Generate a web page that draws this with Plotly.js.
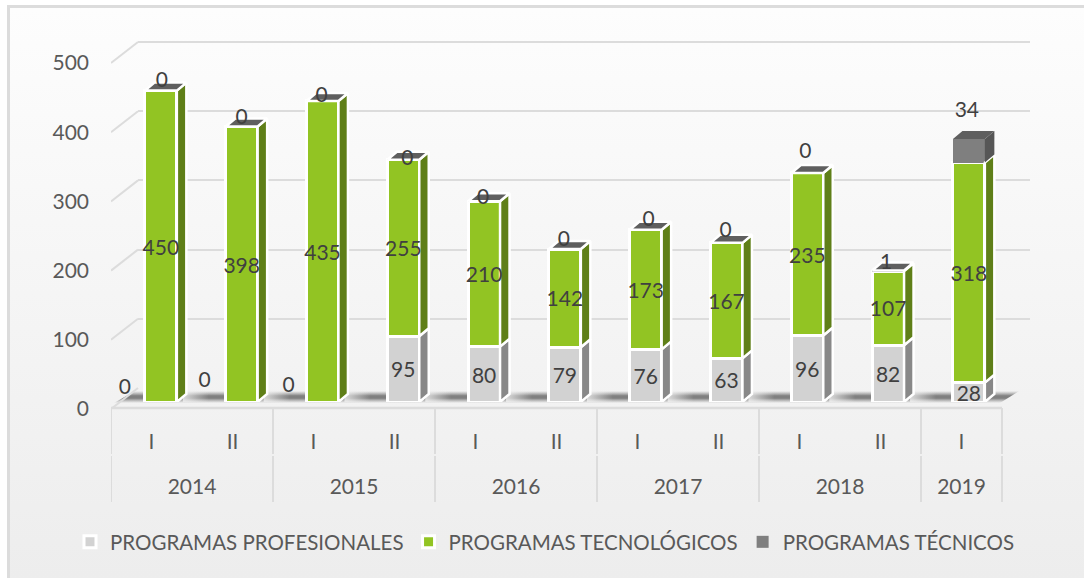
<!DOCTYPE html>
<html><head><meta charset="utf-8">
<script src="https://cdn.plot.ly/plotly-3.0.1.min.js"></script>
<style>
html,body{margin:0;padding:0;width:1084px;height:578px;overflow:hidden;background:#fff}
#frame{position:absolute;left:7px;top:5px;right:0;bottom:0;border-left:3px solid #dcdcdc;border-top:3px solid #dcdcdc;background:linear-gradient(#fdfdfd,#ededed)}
#chart{position:absolute;left:0;top:0;width:1084px;height:578px}
</style></head><body><div id="frame"></div><div id="chart"></div>
<script>
const periods=['I','II','I','II','I','II','I','II','I','II','I'];
const years=['2014','2015','2016','2017','2018','2019'];
const yearSizes=[2,2,2,2,2,1];
const profesionales=[0,0,0,95,80,79,76,63,96,82,28];
const tecnologicos=[450,398,435,255,210,142,173,167,235,107,318];
const tecnicos=[0,0,0,0,0,0,0,0,0,1,34];
const valueTicks=[0,100,200,300,400,500];
const names=['PROGRAMAS PROFESIONALES','PROGRAMAS TECNOLÓGICOS','PROGRAMAS TÉCNICOS'];

// label nudges, in pixels
const zeroLabelNudge=[[-36,13],[-37,20],[-34,15]];
const topLabelNudgeX=[1,0,-1,4,-1,-1,3,-1,-2,-2,-2];
const topLabelNudgeY=[9,8,4,0,3,8,9,11,20,7,27];
const labelDrop=3;

const W=1084,H=578,PX=0.692,STEP=81,BARSTEP=80.8;
const FONT='Lato, sans-serif';
const xs=periods.map((_,i)=>i);
const barOff=-0.08,barW=0.395,dx=9.5/BARSTEP,dy=8/PX;
const xDom=[111/W,1];
const xRange=[-0.5,-0.5+973/STEP],xRange3=[-0.5,-0.5+973/BARSTEP];
const pu=p=>p/PX, xu=p=>p/STEP, xb=p=>p/BARSTEP;

const base1=profesionales, top1=profesionales.map((v,i)=>v+tecnologicos[i]), top2=top1.map((v,i)=>v+tecnicos[i]);

function sides(lo,hi,only){const X=[],Y=[];xs.forEach(i=>{if(hi[i]<=lo[i]||(only&&!only(i)))return;const r=i+barOff+barW;
  X.push(r,r+dx,r+dx,r,r,null);Y.push(lo[i],lo[i]+dy,hi[i]+dy,hi[i],lo[i],null);});return{X,Y};}
function tops(h,only){const X=[],Y=[];xs.forEach(i=>{if(!only(i))return;const l=i+barOff,r=l+barW;
  X.push(l,r,r+dx,l+dx,l,null);Y.push(h[i],h[i],h[i]+dy,h[i]+dy,h[i],null);});return{X,Y};}
function face(g,fill,lw){return{type:'scatter',mode:lw?'lines':'none',x:g.X,y:g.Y,xaxis:'x3',yaxis:'y3',fill:'toself',fillcolor:fill,
  line:{color:'#fff',width:lw||0},showlegend:false,hoverinfo:'skip'};}
function bar(name,y,color,lw){return{type:'bar',name,x:xs,y,xaxis:'x3',yaxis:'y3',offset:barOff,width:barW,
  marker:{color,line:{color:'#fff',width:lw}},hoverinfo:'skip'};}
function labels(x,y,text){return{type:'scatter',mode:'text',x,y,text,xaxis:'x3',yaxis:'y3',textposition:'middle center',
  textfont:{family:FONT,size:21,color:'#404040'},showlegend:false,hoverinfo:'skip',cliponaxis:false};}

const cx=i=>i+barOff+barW/2;
const traces=[];
// back wall
traces.push({type:'scatter',mode:'none',x:[0,1],y:[0,0],xaxis:'x',yaxis:'y',showlegend:false,hoverinfo:'skip'});
// floor shadow
traces.push({type:'scatter',mode:'none',xaxis:'x2',yaxis:'y2',showlegend:false,hoverinfo:'skip',fill:'toself',
  x:[-0.5+xu(3),10.5+xu(-2),10.5+xu(17),-0.5+xu(24),-0.5+xu(3)],
  y:[pu(6),pu(6),pu(18),pu(18),pu(6)],
  fillgradient:{type:'vertical',colorscale:[[0,'rgba(110,110,110,0)'],[0.4,'rgba(90,90,90,0.75)'],[0.6,'rgba(90,90,90,0.75)'],[1,'rgba(110,110,110,0)']]}});
// lighter patches right of each bar
xs.slice(0,-1).forEach(i=>{const l=i+barOff+barW+xb(6),r=l+xb(26);
  traces.push({type:'scatter',mode:'none',xaxis:'x3',yaxis:'y3',showlegend:false,hoverinfo:'skip',fill:'toself',
    x:[l,r,r,l,l],y:[pu(-2),pu(-2),pu(12),pu(12),pu(-2)],
    fillgradient:{type:'horizontal',colorscale:[[0,'rgba(241,241,241,0.8)'],[1,'rgba(241,241,241,0)']]}});
});
// side walls
const dgx=[],dgy=[];valueTicks.forEach(v=>{dgx.push(-0.5,-0.5+xu(27),null);dgy.push(v,v+pu(21),null);});
traces.push({type:'scatter',mode:'lines',x:dgx,y:dgy,xaxis:'x2',yaxis:'y2',line:{color:'#dcdcdc',width:2},showlegend:false,hoverinfo:'skip'});
// bars
traces.push(bar(names[0],profesionales,'#d2d2d2',3));
traces.push(bar(names[1],tecnologicos,'#92c423',3));
traces.push(bar(names[2],tecnicos,'#7f7f7f',0));
// 3-D faces
traces.push(face(sides(profesionales.map(()=>0),base1),'#888888',2.5));
traces.push(face(sides(base1,top1),'#5f7f18',2.5));
traces.push(face(sides(top1,top2,i=>tecnicos[i]>1),'#565656',0));
traces.push(face(tops(top2,i=>tecnicos[i]<=1),'#5f5f5f',2.5));
traces.push(face(tops(top2,i=>tecnicos[i]>1),'#5f5f5f',0));
// labels
traces.push(labels(xs.map(i=>cx(i)+(profesionales[i]?0:xb((zeroLabelNudge[i]||[0,0])[0]))),
  profesionales.map((v,i)=>v?v/2-pu(labelDrop):pu((zeroLabelNudge[i]||[0,0])[1])),profesionales.map(String)));
traces.push(labels(xs.map(i=>cx(i)),tecnologicos.map((v,i)=>base1[i]+v/2-pu(labelDrop)),tecnologicos.map(String)));
traces.push(labels(xs.map(i=>cx(i)+xb(topLabelNudgeX[i])),top2.map((v,i)=>v+pu(topLabelNudgeY[i])),tecnicos.map(String)));

// year groups
let pos=-0.5;const bounds=[pos],centers=[];
yearSizes.forEach(n=>{centers.push((pos+n/2+0.5)*STEP/BARSTEP-0.5);pos+=n;bounds.push(pos);});
const shapes=[];
const py=p=>1-p/H;
bounds.forEach(b=>{
  shapes.push({type:'line',xref:'x2',yref:'paper',x0:b,x1:b,y0:py(408),y1:py(454),line:{color:'#dcdcdc',width:2},layer:'below'});
  shapes.push({type:'line',xref:'x2',yref:'paper',x0:b,x1:b,y0:py(456),y1:py(502),line:{color:'#dcdcdc',width:2},layer:'below'});
});
shapes.push({type:'line',xref:'x2',yref:'paper',x0:bounds[0],x1:bounds[bounds.length-1],y0:py(408),y1:py(408),line:{color:'#dcdcdc',width:2.5},layer:'below'});

const tickFont={family:FONT,size:21,color:'#595959'};
const hidden={showgrid:false,zeroline:false,showline:false,ticks:'',showticklabels:false,fixedrange:true};
const layout={width:W,height:H,margin:{l:0,r:0,t:0,b:0},paper_bgcolor:'rgba(0,0,0,0)',plot_bgcolor:'rgba(0,0,0,0)',
  barmode:'stack',shapes,
  xaxis:{...hidden,domain:[138/W,1030/W],range:[0,1]},
  yaxis:{...hidden,anchor:'x',domain:[py(388),1],range:[0,pu(388)],showgrid:true,gridcolor:'#dcdcdc',gridwidth:2,tickmode:'array',tickvals:valueTicks},
  xaxis2:{...hidden,anchor:'y2',domain:xDom,range:xRange,showticklabels:true,tickmode:'array',tickvals:xs,ticktext:periods,tickfont:tickFont,ticklabelstandoff:18},
  yaxis2:{...hidden,anchor:'x2',domain:[py(409),1],range:[0,pu(409)],showticklabels:true,tickmode:'array',tickvals:valueTicks,tickfont:tickFont,ticklabelstandoff:21},
  xaxis3:{...hidden,anchor:'y3',domain:xDom,range:xRange3,showticklabels:true,tickmode:'array',tickvals:centers,ticktext:years,tickfont:tickFont,ticklabelstandoff:70},
  yaxis3:{...hidden,anchor:'x3',domain:[py(402),1],range:[0,pu(402)]},
  legend:{orientation:'h',x:70/W,y:py(522),xanchor:'left',yanchor:'top',font:{family:FONT,size:20.5,color:'#595959'},bgcolor:'rgba(0,0,0,0)',traceorder:'normal',itemwidth:30,itemclick:false,itemdoubleclick:false},
  showlegend:true
};
Plotly.newPlot('chart',traces,layout,{displayModeBar:false,responsive:false});
</script></body></html>
